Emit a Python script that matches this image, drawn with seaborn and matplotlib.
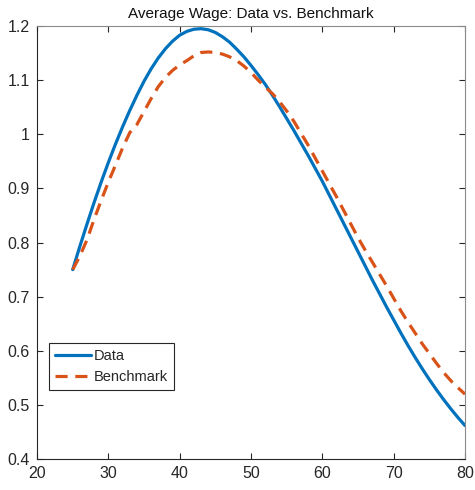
import numpy as np
import pandas as pd
import matplotlib
matplotlib.use("Agg")
import matplotlib.pyplot as plt
from matplotlib.ticker import FuncFormatter
import seaborn as sns

# ages on the x axis
age = list(range(25, 81))

# average wage, data
data_wage = [0.750, 0.793, 0.834, 0.874, 0.912, 0.948, 0.982, 1.014, 1.044, 1.072,
             1.098, 1.121, 1.141, 1.158, 1.172, 1.183, 1.190, 1.194, 1.195, 1.193,
             1.188, 1.180, 1.170, 1.157, 1.143, 1.127, 1.110, 1.092, 1.072, 1.051,
             1.029, 1.007, 0.984, 0.961, 0.937, 0.913, 0.887, 0.861, 0.835, 0.809,
             0.783, 0.757, 0.731, 0.706, 0.681, 0.657, 0.633, 0.610, 0.588, 0.567,
             0.547, 0.528, 0.510, 0.493, 0.477, 0.462]

# average wage, benchmark model
bench_wage = [0.750, 0.775, 0.805, 0.843, 0.878, 0.912, 0.943, 0.975, 1.003, 1.018,
              1.042, 1.066, 1.088, 1.105, 1.118, 1.128, 1.136, 1.145, 1.151, 1.152,
              1.151, 1.148, 1.143, 1.136, 1.126, 1.114, 1.100, 1.087, 1.075, 1.060,
              1.043, 1.024, 1.002, 0.980, 0.956, 0.932, 0.908, 0.884, 0.859, 0.834,
              0.809, 0.786, 0.764, 0.742, 0.720, 0.697, 0.674, 0.653, 0.633, 0.613,
              0.595, 0.577, 0.560, 0.545, 0.532, 0.520]

x_ticks = [20, 30, 40, 50, 60, 70, 80]
y_ticks = [0.4, 0.5, 0.6, 0.7, 0.8, 0.9, 1.0, 1.1, 1.2]

sns.set_theme(style="ticks")
plt.rcParams["font.family"] = ["Liberation Sans", "DejaVu Sans"]

fig = plt.figure(figsize=(4.75, 4.9), dpi=100)
ax = fig.add_axes([0.078, 0.063, 0.901, 0.884])

sns.lineplot(x=age, y=data_wage, ax=ax, color="#0072BD", linewidth=2.3, label="Data")
sns.lineplot(x=age, y=bench_wage, ax=ax, color="#D95319", linewidth=2.3,
             dashes=False, label="Benchmark")
ax.lines[1].set_dashes((3.8, 2.4))

ax.set_xlim(20, 80)
ax.set_ylim(0.4, 1.2)
ax.set_xticks(x_ticks)
ax.set_yticks(y_ticks)
ax.yaxis.set_major_formatter(FuncFormatter(lambda v, p: f"{v:g}"))
ax.tick_params(direction="in", length=4, width=0.8, colors="#262626",
               labelsize=11.5, top=True, right=True, pad=5)
for s in ax.spines.values():
    s.set_visible(True)
    s.set_color("#262626")
    s.set_linewidth(0.8)
for s in ["top", "right"]:
    ax.spines[s].set_color("#8a8a8a")

ax.set_title("Average Wage: Data vs. Benchmark", fontsize=11, pad=6, color="#111111")

leg = ax.legend(loc="lower left", bbox_to_anchor=(0.028, 0.16), fontsize=10.5,
                handlelength=2.5, fancybox=False, framealpha=1,
                borderpad=0.4, labelspacing=0.5, handletextpad=0.2,
                borderaxespad=0)
leg.get_frame().set_edgecolor("#262626")
leg.get_frame().set_linewidth(0.8)

fig.savefig("out.png", dpi=100)
